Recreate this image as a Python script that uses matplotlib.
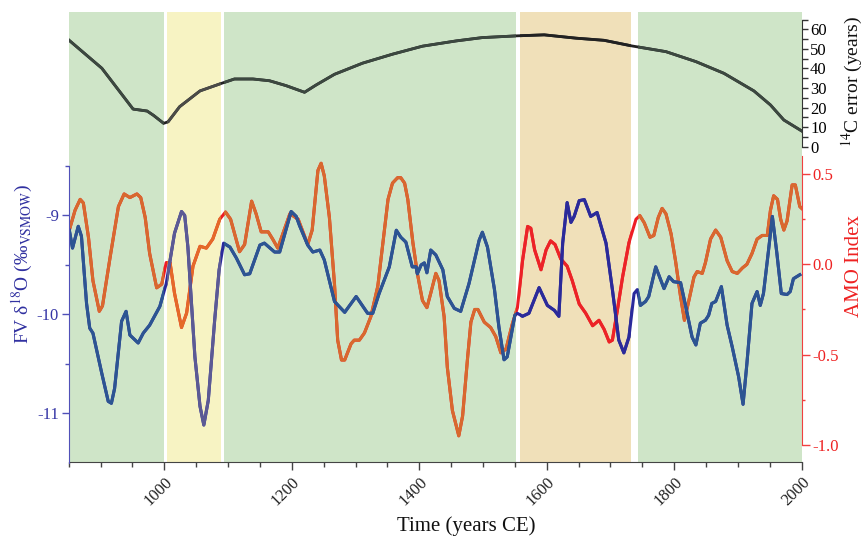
import matplotlib
matplotlib.use("Agg")
import matplotlib.pyplot as plt
from matplotlib.patches import Rectangle
from matplotlib.ticker import MultipleLocator, FixedLocator

plt.rcParams['font.family'] = ['Liberation Serif', 'DejaVu Serif']
plt.rcParams['mathtext.fontset'] = 'stix'
plt.rcParams['axes.unicode_minus'] = False

# FV speleothem d18O record
fv_year = [851, 856, 865, 870, 878, 883, 888, 902, 912, 917,
           922, 933, 940, 946, 959, 967, 977, 993, 1003, 1016,
           1027, 1032, 1037, 1048, 1056, 1062, 1069, 1079, 1086, 1093,
           1103, 1113, 1126, 1134, 1150, 1157, 1173, 1181, 1199, 1207,
           1212, 1225, 1233, 1244, 1251, 1267, 1283, 1301, 1319, 1327,
           1337, 1353, 1364, 1371, 1379, 1389, 1395, 1397, 1403, 1408,
           1412, 1418, 1426, 1437, 1444, 1455, 1465, 1478, 1494, 1499,
           1507, 1518, 1525, 1533, 1538, 1550, 1554, 1562, 1572, 1588,
           1601, 1612, 1619, 1625, 1632, 1638, 1643, 1651, 1659, 1669,
           1679, 1693, 1703, 1713, 1721, 1729, 1737, 1742, 1747, 1755,
           1760, 1771, 1784, 1792, 1799, 1810, 1818, 1828, 1834, 1841,
           1849, 1854, 1859, 1865, 1874, 1883, 1891, 1901, 1908, 1914,
           1922, 1930, 1935, 1940, 1948, 1954, 1961, 1968, 1977, 1982,
           1987, 1997]
fv_d18o = [-9.15, -9.33, -9.11, -9.21, -9.89, -10.14, -10.19, -10.60, -10.88, -10.90,
           -10.75, -10.07, -9.97, -10.21, -10.29, -10.19, -10.11, -9.92, -9.69, -9.18,
           -8.96, -9.00, -9.32, -10.43, -10.93, -11.12, -10.87, -10.06, -9.55, -9.28,
           -9.32, -9.43, -9.60, -9.59, -9.30, -9.28, -9.37, -9.37, -8.96, -9.01,
           -9.10, -9.30, -9.37, -9.35, -9.45, -9.87, -9.98, -9.82, -9.99, -9.99,
           -9.79, -9.52, -9.15, -9.22, -9.27, -9.52, -9.52, -9.59, -9.50, -9.48,
           -9.58, -9.35, -9.40, -9.55, -9.82, -9.94, -9.97, -9.69, -9.25, -9.17,
           -9.32, -9.75, -10.13, -10.46, -10.43, -10.01, -9.99, -10.02, -9.99, -9.73,
           -9.91, -9.96, -10.02, -9.28, -8.87, -9.07, -9.01, -8.85, -8.84, -9.01,
           -8.97, -9.28, -9.75, -10.26, -10.39, -10.23, -9.79, -9.75, -9.91, -9.87,
           -9.82, -9.52, -9.74, -9.62, -9.67, -9.68, -9.92, -10.23, -10.31, -10.09,
           -10.06, -10.01, -9.89, -9.87, -9.72, -10.11, -10.33, -10.63, -10.91, -10.50,
           -9.89, -9.77, -9.91, -9.79, -9.35, -9.01, -9.38, -9.79, -9.80, -9.77,
           -9.64, -9.60]

# AMO index reconstruction
amo_year = [851, 860, 868, 873, 881, 888, 898, 903, 915, 928,
            937, 946, 957, 963, 970, 977, 988, 996, 1003, 1009,
            1016, 1027, 1035, 1045, 1056, 1066, 1076, 1087, 1096, 1104,
            1118, 1126, 1137, 1144, 1152, 1163, 1170, 1178, 1197, 1210,
            1225, 1232, 1241, 1246, 1251, 1259, 1267, 1272, 1278, 1283,
            1293, 1298, 1306, 1314, 1324, 1335, 1343, 1351, 1358, 1366,
            1371, 1377, 1382, 1390, 1397, 1405, 1412, 1418, 1426, 1431,
            1439, 1444, 1452, 1462, 1468, 1476, 1481, 1487, 1492, 1502,
            1512, 1520, 1528, 1536, 1546, 1554, 1562, 1570, 1575, 1581,
            1591, 1599, 1606, 1613, 1622, 1632, 1640, 1651, 1661, 1672,
            1682, 1690, 1698, 1703, 1711, 1719, 1729, 1740, 1746, 1753,
            1762, 1768, 1775, 1781, 1787, 1795, 1802, 1810, 1816, 1823,
            1831, 1836, 1844, 1849, 1857, 1865, 1873, 1883, 1891, 1899,
            1907, 1914, 1922, 1930, 1938, 1946, 1951, 1956, 1962, 1967,
            1972, 1977, 1985, 1990, 1997, 2000]
amo_index = [0.19, 0.30, 0.36, 0.34, 0.15, -0.09, -0.26, -0.23, 0.04, 0.32,
             0.39, 0.37, 0.39, 0.37, 0.26, 0.06, -0.13, -0.11, 0.01, 0.01,
             -0.16, -0.35, -0.27, -0.01, 0.10, 0.09, 0.14, 0.25, 0.29, 0.25,
             0.07, 0.11, 0.35, 0.28, 0.18, 0.18, 0.14, 0.09, 0.28, 0.25,
             0.11, 0.19, 0.52, 0.56, 0.49, 0.26, -0.11, -0.42, -0.53, -0.53,
             -0.44, -0.42, -0.42, -0.38, -0.29, -0.12, 0.12, 0.36, 0.45, 0.48,
             0.48, 0.45, 0.36, 0.12, -0.05, -0.20, -0.24, -0.16, -0.05, -0.09,
             -0.29, -0.57, -0.81, -0.95, -0.84, -0.51, -0.32, -0.25, -0.25, -0.32,
             -0.35, -0.40, -0.49, -0.47, -0.33, -0.24, 0.02, 0.21, 0.20, 0.08,
             -0.03, 0.08, 0.13, 0.11, 0.03, -0.01, -0.09, -0.22, -0.27, -0.34,
             -0.31, -0.36, -0.43, -0.42, -0.25, -0.07, 0.12, 0.25, 0.27, 0.23,
             0.15, 0.16, 0.26, 0.31, 0.28, 0.17, 0.02, -0.18, -0.31, -0.20,
             -0.07, -0.04, -0.05, 0.01, 0.14, 0.19, 0.15, 0.02, -0.04, -0.05,
             -0.02, 0.00, 0.06, 0.14, 0.16, 0.16, 0.30, 0.38, 0.36, 0.25,
             0.19, 0.24, 0.44, 0.44, 0.32, 0.31]

# 14C age model error
c14_year = [850, 902, 951, 973, 983, 999, 1006, 1024, 1056, 1090,
            1110, 1139, 1165, 1191, 1220, 1238, 1267, 1311, 1358, 1405,
            1458, 1499, 1554, 1596, 1646, 1690, 1734, 1787, 1834, 1878,
            1925, 1951, 1972, 2000]
c14_err = [54.6, 40.1, 19.2, 18.2, 16.0, 11.9, 12.7, 20.4, 28.5, 32.4,
           34.6, 34.6, 33.7, 31.2, 27.8, 31.5, 37.0, 42.7, 47.3, 51.4,
           54.1, 55.8, 56.7, 57.2, 55.5, 54.4, 51.5, 48.6, 43.5, 37.5,
           28.5, 21.3, 13.6, 8.0]

# shaded periods
zone_start = [850, 1005, 1094, 1557.5, 1742.5]
zone_end = [999, 1088.5, 1552.5, 1731.5, 2000]
zone_kind = ['green', 'yellow', 'green', 'tan', 'green']

shade = {'green': '#cfe5c8', 'yellow': '#f7f3c3', 'tan': '#f0e0b9'}
fv_col = {'green': '#2c5592', 'yellow': '#5c5a94', 'tan': '#2b2a9a'}
amo_col = {'green': '#d8692e', 'yellow': '#e46a28', 'tan': '#ec2327'}
c14_col = {'green': '#3c4840', 'yellow': '#4b4b48', 'tan': '#222222'}


def zoned_line(ax, x, y, cols, gap_col, lw):
    ax.plot(x, y, color=gap_col, lw=lw)
    for x0, x1, kind in zip(zone_start, zone_end, zone_kind):
        ln, = ax.plot(x, y, color=cols[kind], lw=lw)
        ln.set_clip_path(Rectangle((x0, 0), x1 - x0, 1,
                                   transform=ax.get_xaxis_transform()))


fig = plt.figure(figsize=(8.63, 5.40), dpi=100)
rect = [68.7 / 863, 78 / 540, 733 / 863, 450 / 540]
ax = fig.add_axes(rect)
ax.set_xlim(850, 2000)
for x0, x1, kind in zip(zone_start, zone_end, zone_kind):
    ax.axvspan(x0, x1, color=shade[kind], lw=0)
ax.set_yticks([])
for s in ['top', 'right', 'left']:
    ax.spines[s].set_visible(False)
ax.spines['bottom'].set_color('#444444')
ax.xaxis.set_major_locator(FixedLocator([1000, 1200, 1400, 1600, 1800, 2000]))
ax.xaxis.set_minor_locator(MultipleLocator(50))
ax.tick_params(axis='x', which='major', length=6, width=1, color='#444444',
               labelsize=12, pad=3, labelcolor='#222222')
ax.tick_params(axis='x', which='minor', length=3.5, width=1, color='#444444')
plt.setp(ax.get_xticklabels(), rotation=45, ha='right', rotation_mode='anchor')
ax.set_xlabel('Time (years CE)', fontsize=15, color='#111111')
ax.xaxis.set_label_coords(0.542, -0.12)

# 14C error axis (top)
ax_c = ax.twinx()
ax_c.set_ylim(-161.5, 68.9)
for s in ['top', 'left', 'bottom']:
    ax_c.spines[s].set_visible(False)
ax_c.spines['right'].set_bounds(0, 65)
ax_c.spines['right'].set_color('#333333')
ax_c.yaxis.set_major_locator(FixedLocator([0, 10, 20, 30, 40, 50, 60]))
ax_c.yaxis.set_minor_locator(FixedLocator([5, 15, 25, 35, 45, 55, 65]))
ax_c.tick_params(axis='y', which='major', length=4, width=1, color='#333333',
                 labelsize=12, pad=2)
ax_c.tick_params(axis='y', which='minor', length=4, width=1, color='#333333')
zoned_line(ax_c, c14_year, c14_err, c14_col, '#222222', 2.0)

# AMO axis
ax_a = ax.twinx()
ax_a.set_ylim(-1.095, 1.398)
for s in ['top', 'left', 'bottom']:
    ax_a.spines[s].set_visible(False)
ax_a.spines['right'].set_bounds(-1.0, 0.6)
ax_a.spines['right'].set_color('#f04040')
ax_a.yaxis.set_major_locator(FixedLocator([-1.0, -0.5, 0.0, 0.5]))
ax_a.yaxis.set_minor_locator(FixedLocator([-0.75, -0.25, 0.25]))
ax_a.set_yticklabels(['-1.0', '-0.5', '0.0', '0.5'])
ax_a.tick_params(axis='y', which='major', length=5.5, width=1, color='#f04040',
                 labelsize=12, labelcolor='#ee2222', pad=2)
ax_a.tick_params(axis='y', which='minor', length=2.5, width=1, color='#f04040')
zoned_line(ax_a, amo_year, amo_index, amo_col, '#ee1d25', 2.2)

# FV d18O axis
ax_f = ax.twinx()
ax_f.set_ylim(-11.494, -6.942)
for s in ['top', 'right', 'bottom']:
    ax_f.spines[s].set_visible(False)
ax_f.spines['left'].set_visible(True)
ax_f.spines['left'].set_bounds(-11.5, -8.5)
ax_f.spines['left'].set_color('#5050b8')
ax_f.yaxis.tick_left()
ax_f.yaxis.set_major_locator(FixedLocator([-11, -10, -9]))
ax_f.yaxis.set_minor_locator(FixedLocator([-11.5, -10.5, -9.5, -8.5]))
ax_f.tick_params(axis='y', which='major', length=5, width=1, color='#5050b8',
                 labelsize=12, labelcolor='#3535a5', pad=2)
ax_f.tick_params(axis='y', which='minor', length=3, width=1, color='#5050b8')
zoned_line(ax_f, fv_year, fv_d18o, fv_col, '#2a2a9c', 2.2)

fig.text(22.5 / 863, 1 - 264 / 540, 'FV δ$^{18}$O (‰$_{\\mathrm{VSMOW}}$)',
         rotation=90, ha='center', va='center', fontsize=14, color='#3030a0')
fig.text(854 / 863, 1 - 266 / 540, 'AMO Index', rotation=90, ha='center',
         va='center', fontsize=15, color='#ee2222')
fig.text(852 / 863, 1 - 82 / 540, '$^{14}$C error (years)', rotation=90,
         ha='center', va='center', fontsize=14, color='#111111')

fig.savefig('out.png', dpi=100)
